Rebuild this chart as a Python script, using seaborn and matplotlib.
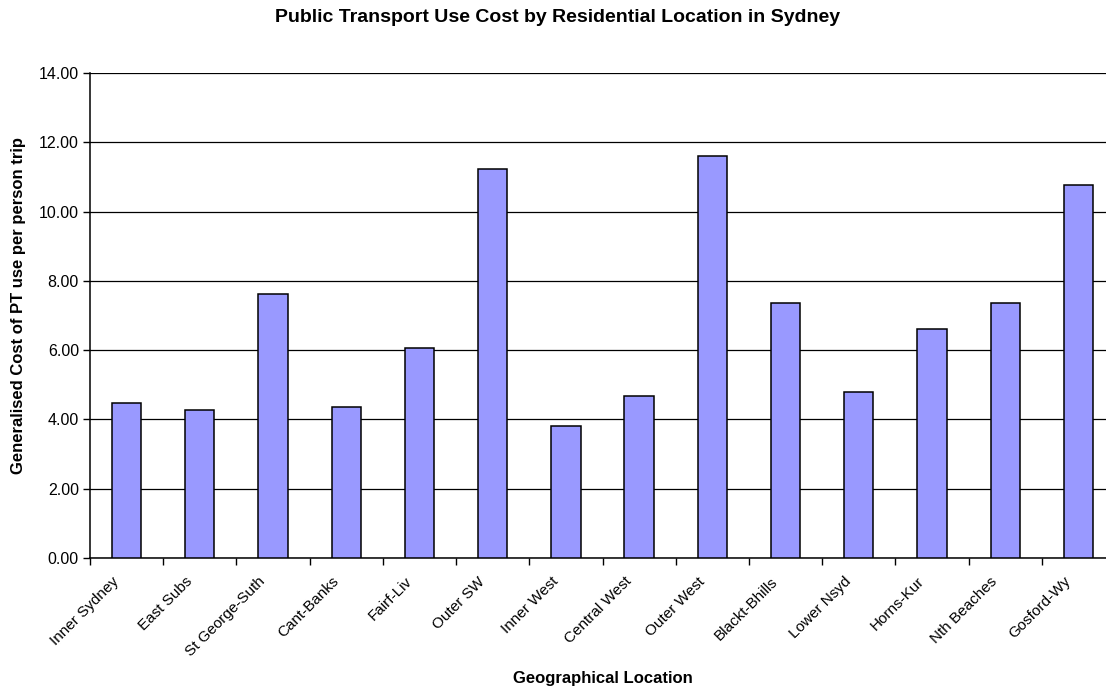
import matplotlib
matplotlib.use("Agg")
import matplotlib.pyplot as plt
import matplotlib.transforms as mtransforms
import numpy as np
import pandas as pd
import seaborn as sns

# Values
locations = [
    "Inner Sydney", "East Subs", "St George-Suth", "Cant-Banks", "Fairf-Liv",
    "Outer SW", "Inner West", "Central West", "Outer West", "Blackt-Bhills",
    "Lower Nsyd", "Horns-Kur", "Nth Beaches", "Gosford-Wy",
]
costs = [4.46, 4.26, 7.61, 4.36, 6.07, 11.24, 3.80,
         4.69, 11.60, 7.35, 4.80, 6.60, 7.35, 10.78]
y_ticks = [0, 2, 4, 6, 8, 10, 12, 14]

TITLE = "Public Transport Use Cost by Residential Location in Sydney"
XLABEL = "Geographical Location"
YLABEL = "Generalised Cost of PT use per person trip"

sns.set_theme(style="white")
plt.rcParams["font.family"] = ["Liberation Sans", "DejaVu Sans"]
plt.rcParams.update({
    "text.color": "black",
    "axes.labelcolor": "black",
    "xtick.color": "black",
    "ytick.color": "black",
})

W, H = 1106, 689
fig = plt.figure(figsize=(W / 100, H / 100), dpi=100)
# plot area runs past the right edge, as in the reference
ax = fig.add_axes([90 / W, (H - 558) / H, 1025 / W, 485 / H])

df = pd.DataFrame({"location": locations, "cost": costs})
sns.barplot(
    data=df, x="location", y="cost",
    color="#9999FF", saturation=1, edgecolor="black", linewidth=1.1,
    width=0.4, ax=ax, zorder=3,
)

ax.set_xlim(-0.5, len(locations) - 0.5)
ax.set_ylim(0, 14)
ax.set_yticks(y_ticks)
ax.set_yticklabels([f"{v:.2f}" for v in y_ticks], fontsize=11.5)
ax.yaxis.grid(True, color="black", linewidth=0.9)
ax.set_axisbelow(True)

# category tick marks sit between bars
ax.set_xticks(np.arange(-0.5, len(locations), 1), minor=True)
ax.tick_params(axis="x", which="minor", bottom=True, length=5, width=1, color="black", direction="out")
ax.tick_params(axis="x", which="major", bottom=True, length=0, pad=6)
ax.tick_params(axis="y", left=True, length=5, width=1, color="black", direction="out", pad=3)
ax.set_xticklabels(locations, rotation=45, ha="right", rotation_mode="anchor", fontsize=11)

# nudge the slanted labels to where the reference puts them
shift = mtransforms.ScaledTranslation(-15 / 100, -8 / 100, fig.dpi_scale_trans)
for lbl in ax.get_xticklabels():
    lbl.set_transform(lbl.get_transform() + shift)

for side in ["top", "right"]:
    ax.spines[side].set_visible(False)
for side in ["left", "bottom"]:
    ax.spines[side].set_color("black")
    ax.spines[side].set_linewidth(1.1)

ax.set_xlabel(XLABEL, fontsize=12, fontweight="bold")
ax.set_ylabel(YLABEL, fontsize=12, fontweight="bold")
ax.xaxis.set_label_coords(0.5, (558 - 671) / 485)
ax.yaxis.set_label_coords((26 - 90) / 1025, (558 - 306) / 485)

fig.text(558 / W, 1 - 18 / H, TITLE, ha="center", va="center", fontsize=14, fontweight="bold")

fig.savefig("out.png", dpi=100)
